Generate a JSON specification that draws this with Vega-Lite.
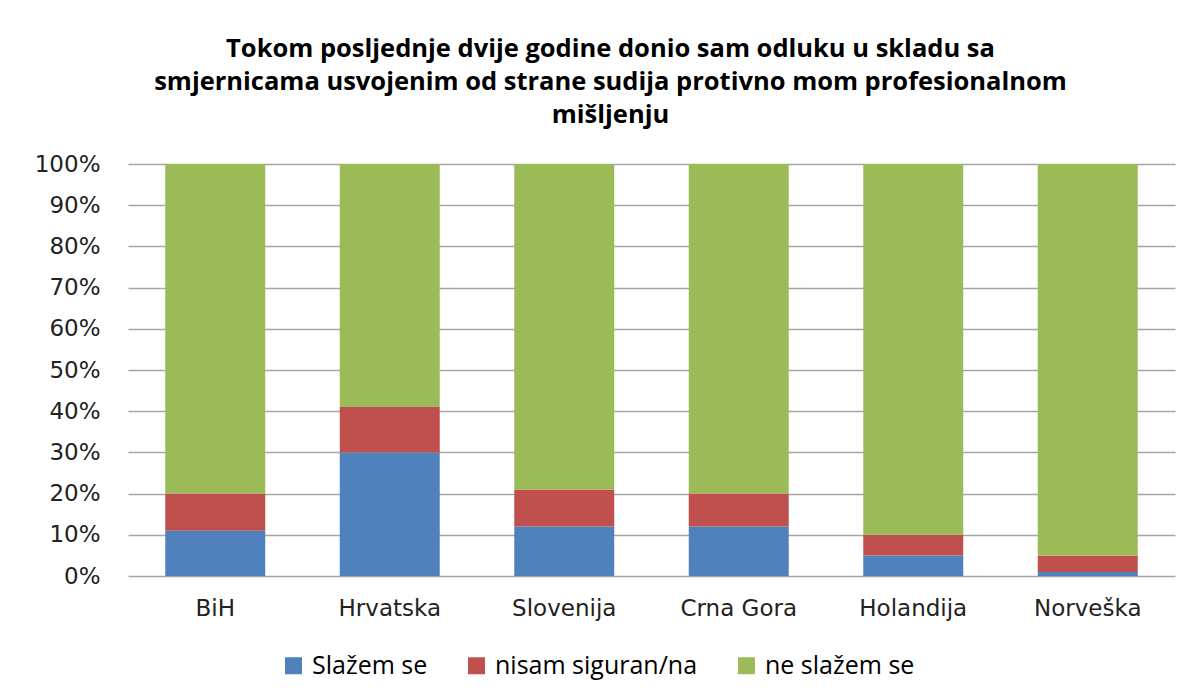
{
  "$schema": "https://vega.github.io/schema/vega-lite/v6.json",
  "width": 1047,
  "height": 412,
  "autosize": {"type": "none"},
  "padding": {"left": 128, "top": 164, "right": 20, "bottom": 124},
  "background": "white",
  "title": {
    "text": ["Tokom posljednje dvije godine donio sam odluku u skladu sa", "smjernicama usvojenim od strane sudija protivno mom profesionalnom", "mišljenju"],
    "font": "Open Sans",
    "fontSize": 25.5,
    "fontWeight": "bold",
    "color": "#000000",
    "anchor": "middle",
    "frame": "group",
    "dx": -41,
    "lineHeight": 33,
    "offset": 25
  },
  "data": {
    "values": [
      {"zemlja": "BiH", "odgovor": "Slažem se", "k": 1, "v": 0.11},
      {"zemlja": "BiH", "odgovor": "nisam siguran/na", "k": 2, "v": 0.09},
      {"zemlja": "BiH", "odgovor": "ne slažem se", "k": 3, "v": 0.80},
      {"zemlja": "Hrvatska", "odgovor": "Slažem se", "k": 1, "v": 0.30},
      {"zemlja": "Hrvatska", "odgovor": "nisam siguran/na", "k": 2, "v": 0.11},
      {"zemlja": "Hrvatska", "odgovor": "ne slažem se", "k": 3, "v": 0.59},
      {"zemlja": "Slovenija", "odgovor": "Slažem se", "k": 1, "v": 0.12},
      {"zemlja": "Slovenija", "odgovor": "nisam siguran/na", "k": 2, "v": 0.09},
      {"zemlja": "Slovenija", "odgovor": "ne slažem se", "k": 3, "v": 0.79},
      {"zemlja": "Crna Gora", "odgovor": "Slažem se", "k": 1, "v": 0.12},
      {"zemlja": "Crna Gora", "odgovor": "nisam siguran/na", "k": 2, "v": 0.08},
      {"zemlja": "Crna Gora", "odgovor": "ne slažem se", "k": 3, "v": 0.80},
      {"zemlja": "Holandija", "odgovor": "Slažem se", "k": 1, "v": 0.05},
      {"zemlja": "Holandija", "odgovor": "nisam siguran/na", "k": 2, "v": 0.05},
      {"zemlja": "Holandija", "odgovor": "ne slažem se", "k": 3, "v": 0.90},
      {"zemlja": "Norveška", "odgovor": "Slažem se", "k": 1, "v": 0.01},
      {"zemlja": "Norveška", "odgovor": "nisam siguran/na", "k": 2, "v": 0.04},
      {"zemlja": "Norveška", "odgovor": "ne slažem se", "k": 3, "v": 0.95}
    ]
  },
  "mark": {"type": "bar"},
  "encoding": {
    "x": {
      "field": "zemlja",
      "type": "nominal",
      "sort": ["BiH", "Hrvatska", "Slovenija", "Crna Gora", "Holandija", "Norveška"],
      "scale": {"paddingInner": 0.427, "paddingOuter": 0.2135},
      "axis": {
        "title": null,
        "labelAngle": 0,
        "labelFont": "DejaVu Sans",
        "labelFontSize": 23,
        "labelColor": "#222222",
        "labelPadding": 21,
        "labelLimit": 0,
        "domain": false,
        "ticks": false,
        "grid": false
      }
    },
    "y": {
      "field": "v",
      "type": "quantitative",
      "stack": "zero",
      "scale": {"domain": [0, 1]},
      "axis": {
        "title": null,
        "format": ".0%",
        "values": [0, 0.1, 0.2, 0.3, 0.4, 0.5, 0.6, 0.7, 0.8, 0.9, 1],
        "labelFont": "DejaVu Sans",
        "labelFontSize": 23,
        "labelColor": "#222222",
        "labelPadding": 28,
        "labelLimit": 0,
        "domain": false,
        "ticks": false,
        "grid": true,
        "gridColor": "#a6a6a6",
        "gridWidth": 1.5
      }
    },
    "color": {
      "field": "odgovor",
      "type": "nominal",
      "scale": {
        "domain": ["Slažem se", "nisam siguran/na", "ne slažem se"],
        "range": ["#4F81BD", "#C0504D", "#9BBB59"]
      },
      "legend": {
        "title": null,
        "orient": "none",
        "direction": "horizontal",
        "legendX": 153,
        "legendY": 489,
        "symbolType": "square",
        "symbolSize": 289,
        "symbolStrokeWidth": 0,
        "labelFont": "Open Sans",
        "labelFontSize": 25,
        "labelColor": "#000000",
        "labelOffset": 6,
        "labelLimit": 0,
        "columnPadding": 36
      }
    },
    "order": {"field": "k", "type": "quantitative"}
  },
  "config": {
    "view": {"stroke": null}
  }
}
